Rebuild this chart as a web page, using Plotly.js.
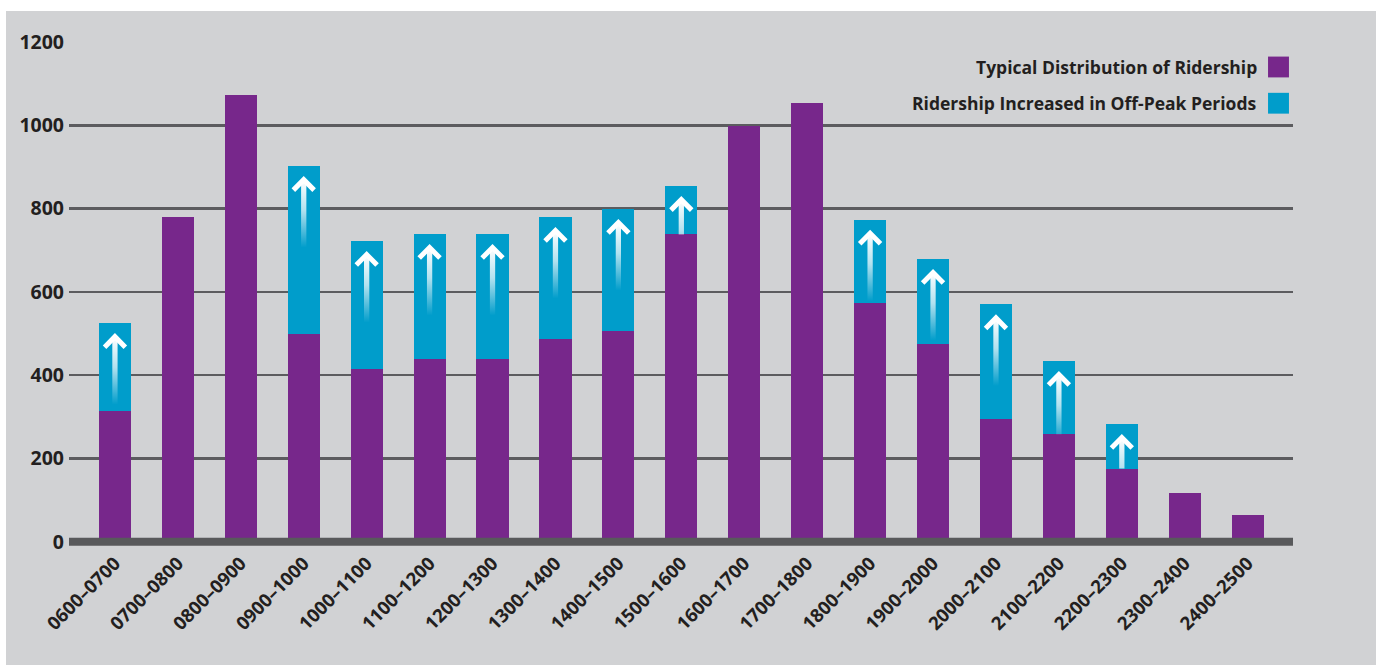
<!DOCTYPE html>
<html>
<head>
<meta charset="utf-8">
<script src="https://cdn.plot.ly/plotly-3.0.1.min.js"></script>
<style>
  html, body { margin: 0; padding: 0; background: #ffffff; }
  #chart { position: absolute; left: 6px; top: 11px; width: 1370px; height: 654px; }
</style>
</head>
<body>
<div id="chart"></div>
<script>
// ---- data ----
const categories = ["0600–0700","0700–0800","0800–0900","0900–1000","1000–1100","1100–1200","1200–1300",
  "1300–1400","1400–1500","1500–1600","1600–1700","1700–1800","1800–1900","1900–2000","2000–2100",
  "2100–2200","2200–2300","2300–2400","2400–2500"];
const typical = [314, 780, 1073, 499, 415, 439, 439, 487, 506, 738, 999, 1053, 573, 475, 294, 258, 176, 117, 64];
const increase = [211, 0, 0, 403, 307, 300, 300, 293, 293, 116, 0, 0, 200, 204, 276, 176, 107, 0, 0];
const seriesNames = ["Typical Distribution of Ridership", "Ridership Increased in Off-Peak Periods"];
const yTicks = [0, 200, 400, 600, 800, 1000, 1200];

// ---- style ----
const PURPLE = "#77278b";
const BLUE = "#009dcb";
const TEXT = "#231f20";
const GRID = "#5c5c5f";
const BG = "#d1d2d4";
const FONT = "'Open Sans', 'Noto Sans', sans-serif";

const idx = categories.map((_, i) => i);

const traces = [
  { type: "bar", x: idx, y: typical, name: seriesNames[0], marker: { color: PURPLE, line: { width: 0 } },
    width: 0.51, hoverinfo: "skip" },
  { type: "bar", x: idx, y: increase, name: seriesNames[1], marker: { color: BLUE, line: { width: 0 } },
    width: 0.51, hoverinfo: "skip" }
];

// white arrows inside each increase segment
const pxPerUnit = 504 / 1210; // approx
const u = px => px / pxPerUnit;
idx.forEach(i => {
  if (increase[i] <= 0) return;
  const top = typical[i] + increase[i];
  const tip = top - u(13.5);
  const fadeLen = u(68);
  const bottom = Math.max(typical[i], tip - fadeLen);
  const hw = 0.042;
  traces.push({
    type: "scatter", mode: "lines",
    x: [i - hw, i + hw, i + hw, i - hw, i - hw],
    y: [bottom, bottom, tip - u(3), tip - u(3), bottom],
    fill: "toself",
    fillgradient: { type: "vertical", start: tip - fadeLen, stop: tip,
      colorscale: [[0, "rgba(255,255,255,0)"], [0.55, "rgba(255,255,255,0.7)"], [1, "rgba(255,255,255,1)"]] },
    line: { width: 0, color: "rgba(0,0,0,0)" },
    hoverinfo: "skip", showlegend: false
  });
  traces.push({
    type: "scatter", mode: "lines",
    x: [i - 0.165, i, i + 0.165],
    y: [tip - u(10.5), tip, tip - u(10.5)],
    line: { color: "#ffffff", width: 5 },
    hoverinfo: "skip", showlegend: false
  });
});

// legend (text left, swatch right) built from series names/colours
const legendRows = [
  { name: seriesNames[0], color: PURPLE, y: 1140 },
  { name: seriesNames[1], color: BLUE, y: 1053 }
];
const annotations = legendRows.map(r => ({
  xref: "paper", yref: "y", x: 0.972, y: r.y, xanchor: "right", yanchor: "middle",
  text: r.name, showarrow: false,
  font: { family: FONT, size: 17.5, color: TEXT, weight: "bold" }
}));
const shapes = legendRows.map(r => ({
  type: "rect", xref: "paper", yref: "y", x0: 0.9796, x1: 0.9967, y0: r.y - 25, y1: r.y + 25,
  fillcolor: r.color, line: { width: 0 }
}));
// thick baseline at zero
shapes.push({ type: "line", xref: "paper", yref: "y", x0: 0, x1: 1, y0: 0, y1: 0,
  line: { color: "#58595b", width: 8 }, layer: "above" });

const layout = {
  width: 1370, height: 654,
  margin: { l: 63, r: 83, t: 31, b: 119 },
  paper_bgcolor: BG, plot_bgcolor: BG,
  barmode: "stack",
  showlegend: false,
  font: { family: FONT, color: TEXT },
  xaxis: {
    type: "linear", range: [-0.73, 18.72],
    tickmode: "array", tickvals: idx, ticktext: categories,
    tickangle: -45, showgrid: false, zeroline: false, showline: false, ticks: "",
    ticklabelstandoff: 2,
    tickfont: { family: FONT, size: 18.5, color: TEXT, weight: "bold" },
    fixedrange: true
  },
  yaxis: {
    range: [-10, 1200], tickmode: "array", tickvals: yTicks,
    showgrid: true, gridcolor: GRID, gridwidth: 2.5, zeroline: false, showline: false, ticks: "",
    ticklabelstandoff: 4,
    tickfont: { family: FONT, size: 19.5, color: TEXT, weight: "bold" },
    fixedrange: true
  },
  annotations: annotations,
  shapes: shapes
};

Plotly.newPlot("chart", traces, layout, { displayModeBar: false, staticPlot: true });
</script>
</body>
</html>
